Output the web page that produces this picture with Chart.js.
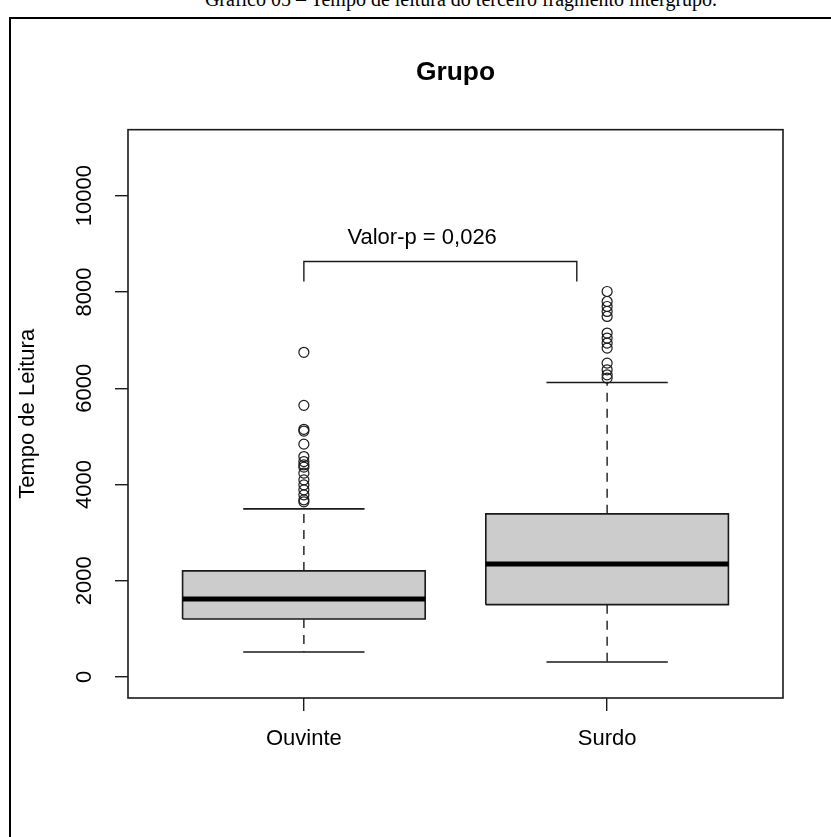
<!DOCTYPE html>
<html>
<head>
<meta charset="utf-8">
<script src="https://cdn.jsdelivr.net/npm/chart.js@4.4.1/dist/chart.umd.min.js"></script>
<style>
  body { margin: 0; background: #fff; }
  #wrap { position: relative; width: 831px; height: 837px; overflow: hidden; }
  #caption { position: absolute; left: 0; width: 922px; top: -12px; line-height: 20px; text-align: center;
             font: 20px "Liberation Serif", "Times New Roman", serif; color: #000; white-space: nowrap; }
  #frame { position: absolute; left: 9px; top: 17px; width: 900px; height: 900px;
           border-left: 2px solid #000; border-top: 2px solid #000; }
  canvas { position: absolute; left: 0; top: 0; }
</style>
</head>
<body>
<div id="wrap">
  <div id="caption">Gráfico 05 – Tempo de leitura do terceiro fragmento intergrupo.</div>
  <div id="frame"></div>
  <canvas id="chart" width="831" height="837"></canvas>
</div>
<script>
// dados
const groups = ['Ouvinte', 'Surdo'];
const groupPos = [1, 2];
const lowerWhisker = [520, 312];
const q1 = [1206, 1503];
const median = [1622, 2349];
const q3 = [2204, 3389];
const upperWhisker = [3493, 6119];
const outliersOuvinte = [6746, 5644, 5146, 5110, 4838, 4580, 4476, 4407, 4360, 4235, 4096, 3992, 3888, 3784, 3680, 3640];
const outliersSurdo = [8010, 7802, 7698, 7595, 7491, 7146, 7042, 6938, 6834, 6522, 6383, 6279, 6210];
const yTicks = [0, 2000, 4000, 6000, 8000, 10000];

// anotacao do valor-p
const pValueText = 'Valor-p = 0,026';
const bracketX = [1, 1.9];
const bracketY = [8218, 8634];
const pValuePos = [1.39, 9127];

const BOX_HALF = 0.4;
const CAP_HALF = 0.2;
const INK = '#1a1a1a';
const FONT = '"Liberation Sans", Arial, sans-serif';

const datasets = [];

groups.forEach((g, i) => {
  const x = groupPos[i];
  // mediana
  datasets.push({
    data: [{ x: x - BOX_HALF, y: median[i] }, { x: x + BOX_HALF, y: median[i] }],
    borderColor: '#000', borderWidth: 5, order: 0
  });
  // caixa
  datasets.push({
    data: [
      { x: x - BOX_HALF, y: q1[i] }, { x: x + BOX_HALF, y: q1[i] },
      { x: x + BOX_HALF, y: q3[i] }, { x: x - BOX_HALF, y: q3[i] },
      { x: x - BOX_HALF, y: q1[i] }
    ],
    borderColor: INK, borderWidth: 1.6, backgroundColor: '#cccccc', fill: 'shape', order: 1
  });
  // bigodes tracejados
  datasets.push({
    data: [{ x: x, y: q3[i] }, { x: x, y: upperWhisker[i] }, { x: x, y: null },
           { x: x, y: q1[i] }, { x: x, y: lowerWhisker[i] }],
    borderColor: INK, borderWidth: 1.4, borderDash: [9, 7], spanGaps: false, order: 2
  });
  // limites dos bigodes
  datasets.push({
    data: [{ x: x - CAP_HALF, y: upperWhisker[i] }, { x: x + CAP_HALF, y: upperWhisker[i] }, { x: x, y: null },
           { x: x - CAP_HALF, y: lowerWhisker[i] }, { x: x + CAP_HALF, y: lowerWhisker[i] }],
    borderColor: INK, borderWidth: 1.6, spanGaps: false, order: 2
  });
});

// outliers
[outliersOuvinte, outliersSurdo].forEach((vals, i) => {
  datasets.push({
    data: vals.map(v => ({ x: groupPos[i], y: v })),
    showLine: false, pointStyle: 'circle', pointRadius: 5,
    pointBorderWidth: 1.2, pointBorderColor: INK, pointBackgroundColor: 'rgba(255,255,255,0)', order: 3
  });
});

// colchete
datasets.push({
  data: [{ x: bracketX[0], y: bracketY[0] }, { x: bracketX[0], y: bracketY[1] },
         { x: bracketX[1], y: bracketY[1] }, { x: bracketX[1], y: bracketY[0] }],
  borderColor: INK, borderWidth: 1.4, order: 3
});

datasets.forEach(d => {
  d.pointRadius = d.pointRadius || 0;
  d.tension = 0;
  if (d.fill === undefined) d.fill = false;
});

const rPlot = {
  id: 'rPlot',
  afterDatasetsDraw(chart) {
    const { ctx, chartArea: a, scales: { x, y } } = chart;
    ctx.save();
    // moldura do grafico
    ctx.strokeStyle = INK;
    ctx.lineWidth = 1.6;
    ctx.strokeRect(a.left, a.top, a.right - a.left, a.bottom - a.top);
    // texto do valor-p
    ctx.fillStyle = '#000';
    ctx.font = '22px ' + FONT;
    ctx.textAlign = 'center';
    ctx.textBaseline = 'middle';
    ctx.fillText(pValueText, x.getPixelForValue(pValuePos[0]), y.getPixelForValue(pValuePos[1]));
    // rotulos do eixo y (girados)
    yTicks.forEach(v => {
      ctx.save();
      ctx.translate(a.left - 43, y.getPixelForValue(v));
      ctx.rotate(-Math.PI / 2);
      ctx.fillText(String(v), 0, 0);
      ctx.restore();
    });
    ctx.restore();
  }
};

new Chart(document.getElementById('chart'), {
  type: 'line',
  data: { datasets },
  options: {
    responsive: false,
    animation: false,
    events: [],
    layout: { padding: { left: 0, right: 48, top: 0, bottom: 0 } },
    plugins: {
      legend: { display: false },
      tooltip: { enabled: false },
      title: {
        display: true, text: 'Grupo', fullSize: false, color: '#000',
        font: { family: FONT, size: 26.4, weight: 'bold' },
        padding: { top: 57, bottom: 41 }
      }
    },
    scales: {
      x: {
        type: 'linear', min: 0.42, max: 2.58,
        afterBuildTicks: s => { s.ticks = groupPos.map(v => ({ value: v })); },
        afterFit: s => { s.height = 139; },
        ticks: {
          callback: v => groups[groupPos.indexOf(v)],
          font: { family: FONT, size: 22 }, color: '#000', padding: 15, maxRotation: 0
        },
        grid: { drawOnChartArea: false, drawTicks: true, tickLength: 13, color: INK, lineWidth: 1.4 },
        border: { display: false }
      },
      y: {
        type: 'linear', min: -437, max: 11372,
        afterBuildTicks: s => { s.ticks = yTicks.map(v => ({ value: v })); },
        afterFit: s => { s.width = 128; },
        ticks: { display: false },
        grid: { drawOnChartArea: false, drawTicks: true, tickLength: 13, color: INK, lineWidth: 1.4 },
        border: { display: false },
        title: {
          display: true, text: 'Tempo de Leitura', color: '#000',
          font: { family: FONT, size: 22 }, padding: { top: 15, bottom: 0 }
        }
      }
    }
  },
  plugins: [rPlot]
});
</script>
</body>
</html>
